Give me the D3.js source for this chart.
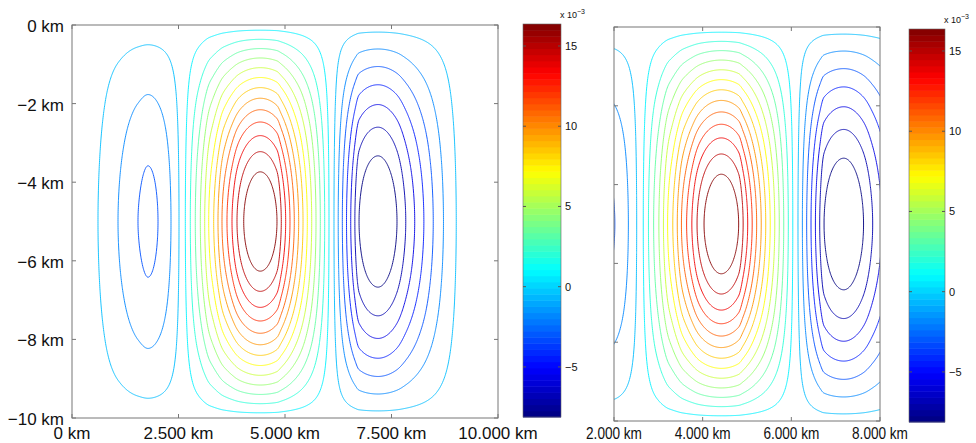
<!DOCTYPE html>
<html>
<head>
<meta charset="utf-8">
<script src="https://cdn.jsdelivr.net/npm/d3@7"></script>
<style>
  body { margin: 0; background: #fff; }
  svg text { font-family: "Liberation Sans", Arial, Helvetica, sans-serif; fill: #111; }
</style>
</head>
<body>
<svg id="chart" width="976" height="443"></svg>
<script>
// contour levels, in units of 10^-3
const levels = [-8.29, -7.0, -5.71, -4.42, -3.13, -1.84, -0.55,
  0.74, 2.03, 3.32, 4.61, 5.9, 7.19, 8.48, 9.77, 11.06, 12.35, 13.64, 14.93, 16.22];

const profileKm = [0, 610, 1080, 1549, 1784, 2019, 2324, 2512, 2582,
  2660, 2777, 2894, 3012, 3115, 3209, 3326, 3427, 3521, 3638, 3756, 3873, 4031, 4420,
  4812, 4913, 5016, 5117, 5218, 5321, 5423, 5524, 5627, 5728, 5829, 5932, 6033, 6091,
  6150, 6249, 6346, 6444, 6543, 6640, 6738, 7183,
  7629, 7835, 8045, 8260, 8480, 8720, 9020, 9300, 10000];
const profileValue = [0, -0.55, -1.84, -3.13, -3.47, -3.13, -1.84, -0.55, 0,
  0.74, 2.03, 3.32, 4.61, 5.9, 7.19, 8.48, 9.77, 11.06, 12.35, 13.64, 14.93, 16.22, 17.6,
  16.22, 14.93, 13.64, 12.35, 11.06, 9.77, 8.48, 7.19, 5.9, 4.61, 3.32, 2.03, 0.74, 0,
  -0.55, -1.84, -3.13, -4.42, -5.71, -7.0, -8.29, -9.58,
  -8.29, -7.0, -5.71, -4.42, -3.13, -1.84, -0.55, 0, 0];

// relative strength with depth
const depthKm = [0, 1, 2, 3, 4, 5, 6, 7, 8, 9, 10];
const depthShape = [0, 0.31, 0.59, 0.81, 0.95, 1, 0.95, 0.81, 0.59, 0.31, 0];

const yTicks = [0, -2, -4, -6, -8, -10];
const xTicksLeft = [0, 2500, 5000, 7500, 10000];
const xTicksRight = [2000, 4000, 6000, 8000];
const colorDomain = [-8.12, 16.37];
const colorTicks = [-5, 0, 5, 10, 15];

const svg = d3.select("#chart");
const kmFormat = d3.formatLocale({ decimal: ",", thousands: ".", grouping: [3], minus: "\u2212" }).format(",d");

// MATLAB jet
function jet(t) {
  t = Math.max(0, Math.min(1, t));
  const c = v => Math.round(255 * Math.max(0, Math.min(1, v)));
  return `rgb(${c(1.5 - Math.abs(4 * t - 3))},${c(1.5 - Math.abs(4 * t - 2))},${c(1.5 - Math.abs(4 * t - 1))})`;
}
const colorT = d3.scaleLinear().domain(colorDomain).range([0, 1]);

// monotone cubic through the read points
function monotone(xs, ys) {
  const n = xs.length, s = [], m = new Array(n);
  for (let k = 0; k < n - 1; k++) s.push((ys[k + 1] - ys[k]) / (xs[k + 1] - xs[k]));
  for (let k = 1; k < n - 1; k++) {
    const h0 = xs[k] - xs[k - 1], h1 = xs[k + 1] - xs[k];
    const p = (s[k - 1] * h1 + s[k] * h0) / (h0 + h1);
    m[k] = (Math.sign(s[k - 1]) + Math.sign(s[k])) *
      Math.min(Math.abs(s[k - 1]), Math.abs(s[k]), 0.5 * Math.abs(p)) || 0;
  }
  m[0] = (3 * s[0] - m[1]) / 2;
  m[n - 1] = (3 * s[n - 2] - m[n - 2]) / 2;
  return x => {
    const k = Math.max(0, Math.min(n - 2, d3.bisectRight(xs, x) - 1));
    const h = xs[k + 1] - xs[k], t = (x - xs[k]) / h;
    const t2 = t * t, t3 = t2 * t;
    return (2 * t3 - 3 * t2 + 1) * ys[k] + (t3 - 2 * t2 + t) * h * m[k] +
      (-2 * t3 + 3 * t2) * ys[k + 1] + (t3 - t2) * h * m[k + 1];
  };
}

const fx = monotone(profileKm, profileValue);
const fz = monotone(depthKm, depthShape);
const nx = 1001, nz = 201, dx = 10000 / (nx - 1), dz = 10 / (nz - 1);
const field = new Float64Array(nx * nz), fieldNeg = new Float64Array(nx * nz);
for (let j = 0; j < nz; j++) {
  const zv = fz(j * dz);
  for (let i = 0; i < nx; i++) {
    const v = fx(i * dx) * zv;
    field[j * nx + i] = v;
    fieldNeg[j * nx + i] = -v;
  }
}
const gen = d3.contours().size([nx, nz]);
const shapes = levels.map(L => ({
  level: L,
  geom: L > 0 ? gen.contour(field, L) : gen.contour(fieldNeg, -L)
}));

const panels = [
  { id: "a", left: 72, right: 498, top: 25, bottom: 418, domain: [0, 10000], ticks: xTicksLeft, yLabels: true, squeeze: 1,
    bar: { x: 523, w: 38, top: 24, bottom: 417 } },
  { id: "b", left: 614, right: 880, top: 27, bottom: 421, domain: [2000, 8000], ticks: xTicksRight, yLabels: false, squeeze: 0.8,
    bar: { x: 909, w: 36, top: 29, bottom: 422 } }
];

panels.forEach(p => {
  const x = d3.scaleLinear().domain(p.domain).range([p.left, p.right]);
  const y = d3.scaleLinear().domain([-10, 0]).range([p.bottom, p.top]);

  svg.append("clipPath").attr("id", "clip-" + p.id)
    .append("rect").attr("x", p.left).attr("y", p.top)
    .attr("width", p.right - p.left).attr("height", p.bottom - p.top);

  const proj = d3.geoTransform({
    point(gx, gy) { this.stream.point(x((gx - 0.5) * dx), y(-(gy - 0.5) * dz)); }
  });
  const path = d3.geoPath(proj);

  svg.append("g").attr("clip-path", `url(#clip-${p.id})`)
    .selectAll("path")
    .data(shapes)
    .join("path")
    .attr("d", d => path(d.geom))
    .attr("fill", "none")
    .attr("stroke", d => jet(colorT(d.level)))
    .attr("stroke-opacity", 0.9)
    .attr("stroke-width", 1);

  // box and inside ticks
  const ax = svg.append("g").attr("stroke", "#777").attr("fill", "none");
  ax.append("rect").attr("x", p.left).attr("y", p.top)
    .attr("width", p.right - p.left).attr("height", p.bottom - p.top);
  p.ticks.forEach(t => {
    ax.append("line").attr("x1", x(t)).attr("x2", x(t)).attr("y1", p.bottom).attr("y2", p.bottom - 4);
    ax.append("line").attr("x1", x(t)).attr("x2", x(t)).attr("y1", p.top).attr("y2", p.top + 4);
  });
  yTicks.forEach(t => {
    ax.append("line").attr("x1", p.left).attr("x2", p.left + 4).attr("y1", y(t)).attr("y2", y(t));
    ax.append("line").attr("x1", p.right).attr("x2", p.right - 4).attr("y1", y(t)).attr("y2", y(t));
  });

  svg.append("g").selectAll("text")
    .data(p.ticks)
    .join("text")
    .attr("transform", d => `translate(${x(d)},439) scale(${p.squeeze},1)`)
    .attr("text-anchor", "middle")
    .attr("font-size", 17)
    .text(d => kmFormat(d) + " km");

  if (p.yLabels) {
    svg.append("g").selectAll("text")
      .data(yTicks)
      .join("text")
      .attr("x", p.left - 8)
      .attr("y", d => y(d) + 7)
      .attr("text-anchor", "end")
      .attr("font-size", 17)
      .text(d => kmFormat(d) + " km");
  }

  // colour bar
  const b = p.bar;
  const cy = d3.scaleLinear().domain(colorDomain).range([b.bottom, b.top]);
  const bands = d3.range(64);
  const step = (colorDomain[1] - colorDomain[0]) / 64;
  svg.append("g").selectAll("rect")
    .data(bands)
    .join("rect")
    .attr("x", b.x)
    .attr("width", b.w)
    .attr("y", k => cy(colorDomain[0] + (k + 1) * step))
    .attr("height", k => cy(colorDomain[0] + k * step) - cy(colorDomain[0] + (k + 1) * step) + 0.5)
    .attr("fill", k => jet((k + 0.5) / 64));
  const cb = svg.append("g").attr("stroke", "#555").attr("fill", "none");
  cb.append("rect").attr("x", b.x).attr("y", b.top).attr("width", b.w).attr("height", b.bottom - b.top)
    .attr("stroke", "#666").attr("stroke-width", 0.6);
  colorTicks.forEach(t => {
    cb.append("line").attr("x1", b.x).attr("x2", b.x + 3).attr("y1", cy(t)).attr("y2", cy(t));
    cb.append("line").attr("x1", b.x + b.w).attr("x2", b.x + b.w - 3).attr("y1", cy(t)).attr("y2", cy(t));
  });
  svg.append("g").selectAll("text")
    .data(colorTicks)
    .join("text")
    .attr("x", b.x + b.w + 4)
    .attr("y", d => cy(d) + 4)
    .attr("font-size", 11)
    .text(d => kmFormat(d));
  const mult = svg.append("text")
    .attr("x", b.x + b.w - 1)
    .attr("y", b.top - 6)
    .attr("font-size", 9)
    .text("x 10");
  mult.append("tspan").attr("dy", -4).attr("font-size", 7).text("\u22123");
});
</script>
</body>
</html>
